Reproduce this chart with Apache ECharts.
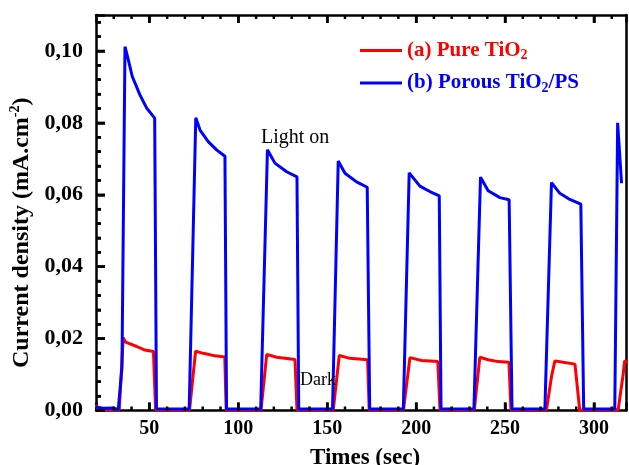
<!DOCTYPE html>
<html>
<head>
<meta charset="utf-8">
<script src="https://cdn.jsdelivr.net/npm/echarts@6/dist/echarts.min.js"></script>
<style>
  html, body { margin: 0; padding: 0; background: #fff; }
  #chart { width: 629px; height: 465px; }
</style>
</head>
<body>
<div id="chart"></div>
<script>
// Photocurrent response (light on / dark cycles)
const timesPorous = [20, 24, 29.7, 32.5, 34.6, 36.3, 37.6, 40.4, 44.7, 48.5, 53.0, 54.0, 63, 72.4,
  76.1, 78.5, 83.1, 87.8, 92.5, 93.4, 103, 112.6,
  116.4, 120.6, 127.2, 133.0, 134.0, 143, 153.0,
  156.2, 160.0, 166.5, 172.5, 173.9, 183, 192.8,
  196.1, 202.1, 207.7, 213.0, 214.0, 223, 232.5,
  236.2, 240.5, 247.1, 252.3, 253.9, 263, 272.4,
  276.1, 280.8, 286.4, 292.6, 294.2, 303, 311.7,
  313.3, 315.5];
const currentPorous = [0.0010, 0.0006, 0.0007, 0.0002, 0.012, 0.1012, 0.0987, 0.0929, 0.0878, 0.0841, 0.0813, 0.0005, 0.0004, 0.0004,
  0.0814, 0.0780, 0.0748, 0.0725, 0.0707, 0.0004, 0.0004, 0.0004,
  0.0725, 0.0688, 0.0664, 0.0650, 0.0004, 0.0004, 0.0004,
  0.0694, 0.0660, 0.0636, 0.0621, 0.0004, 0.0004, 0.0004,
  0.0661, 0.0624, 0.0609, 0.0597, 0.0004, 0.0004, 0.0004,
  0.0649, 0.0611, 0.0592, 0.0586, 0.0004, 0.0004, 0.0004,
  0.0634, 0.0604, 0.0587, 0.0574, 0.0004, 0.0004, 0.0004,
  0.0800, 0.0632];

const timesPure = [20, 21.5, 27, 33.1, 35.3, 36.7, 42.9, 47.5, 52.3, 53.5, 63, 72.6,
  76.0, 80.3, 86.9, 92.4, 93.2, 103, 112.8,
  116.0, 121.6, 131.9, 133.0, 143, 153.4,
  156.8, 162.8, 172.7, 173.6, 183, 192.9,
  196.5, 203.1, 212.2, 213.4, 223, 232.7,
  235.8, 240.5, 246.1, 252.2, 253.3, 263, 273.3,
  276.1, 278.0, 282.7, 289.3, 290.3, 292.0, 293.8, 303, 313.6,
  316.4, 317.2, 319];
const currentPure = [0.0015, 0.0002, 0.0002, 0.0002, 0.0202, 0.0190, 0.0178, 0.0168, 0.0164, 0.0002, 0.0002, 0.0002,
  0.0165, 0.0159, 0.0152, 0.0149, 0.0002, 0.0002, 0.0002,
  0.0156, 0.0148, 0.0142, 0.0002, 0.0002, 0.0002,
  0.0153, 0.0145, 0.0141, 0.0002, 0.0002, 0.0002,
  0.0147, 0.0139, 0.0136, 0.0002, 0.0002, 0.0002,
  0.0148, 0.0141, 0.0136, 0.0134, 0.0002, 0.0002, 0.0002,
  0.0094, 0.0138, 0.0134, 0.0129, 0.0129, 0.0000, 0.0002, 0.0002, 0.0002,
  0.0100, 0.0138, 0.0134];

const seriesNames = ['(a) Pure TiO2', '(b) Porous TiO2/PS'];
const xMajorTicks = [50, 100, 150, 200, 250, 300];
const xMinorTicks = [30, 40, 60, 70, 80, 90, 110, 120, 130, 140, 160, 170, 180, 190,
  210, 220, 230, 240, 260, 270, 280, 290, 310];
const yMajorTicks = [0, 0.02, 0.04, 0.06, 0.08, 0.10];
const yMinorTicks = [0.004, 0.008, 0.012, 0.016, 0.024, 0.028, 0.032, 0.036, 0.044, 0.048,
  0.052, 0.056, 0.064, 0.068, 0.072, 0.076, 0.084, 0.088, 0.092, 0.096, 0.104, 0.108];

const zip = (xs, ys) => xs.map((x, i) => [x, ys[i]]);
const SERIF = 'Liberation Serif';
const X_MIN = 20, X_MAX = 318, Y_MIN = 0, Y_MAX = 0.11;

const frameLine = { show: true, onZero: false, lineStyle: { color: '#000', width: 2.5 } };
const tickLine = { color: '#000', width: 2.5 };

function xAxisDef(position) {
  return {
    type: 'value', position: position, min: X_MIN, max: X_MAX, splitNumber: 6,
    axisLine: frameLine, splitLine: { show: false },
    axisTick: { show: true, inside: true, length: 8, lineStyle: tickLine },
    axisLabel: { show: false }
  };
}

const xAxes = [xAxisDef('bottom'), xAxisDef('top')];
Object.assign(xAxes[0], {
  axisLabel: {
    show: true, customValues: xMajorTicks, margin: 8,
    fontFamily: SERIF, fontWeight: 'bold', fontSize: 20, color: '#000'
  }
});

const yAxes = [
  {
    type: 'value', position: 'left', min: Y_MIN, max: Y_MAX, interval: 0.02,
    axisLine: frameLine, splitLine: { show: false },
    axisTick: { show: true, inside: true, length: 9, lineStyle: tickLine },
    minorTick: { show: true, splitNumber: 5, length: 5, lineStyle: tickLine },
    minorSplitLine: { show: false },
    axisLabel: {
      show: true, customValues: yMajorTicks, margin: 13,
      fontFamily: SERIF, fontWeight: 'bold', fontSize: 22, color: '#000',
      formatter: v => v.toFixed(2).replace('.', ',')
    },
    name: '{m|Current density (mA.cm}{p|-2}{m|)}', nameLocation: 'middle', nameGap: 60,
    nameTextStyle: {
      padding: [0, 40, 0, 0],
      rich: {
        m: { fontFamily: SERIF, fontWeight: 'bold', fontSize: 24, color: '#000', lineHeight: 27 },
        p: { fontFamily: SERIF, fontWeight: 'bold', fontSize: 14, color: '#000', lineHeight: 6, verticalAlign: 'top' }
      }
    }
  },
  {
    type: 'value', position: 'right', min: Y_MIN, max: Y_MAX,
    axisLine: frameLine, splitLine: { show: false },
    axisTick: { show: false }, axisLabel: { show: false }
  }
];

const chart = echarts.init(document.getElementById('chart'), null, { renderer: 'canvas' });
chart.setOption({
  animation: false,
  backgroundColor: '#fff',
  grid: { left: 96, right: 3, top: 15, bottom: 54.5, containLabel: false, outerBoundsContain: 'axisLabel' },
  xAxis: xAxes,
  yAxis: yAxes,
  legend: {
    orient: 'vertical', left: 360, top: 40, padding: 0,
    icon: 'rect', itemWidth: 42, itemHeight: 3, itemGap: 10,
    data: seriesNames,
    formatter: name => name === seriesNames[0]
      ? '{r|(a) Pure TiO}{rs|2}'
      : '{b|(b) Porous TiO}{bs|2}{b|/PS}',
    textStyle: {
      rich: {
        r: { color: '#ff0000', fontFamily: SERIF, fontWeight: 'bold', fontSize: 21, lineHeight: 24 },
        rs: { color: '#ff0000', fontFamily: SERIF, fontWeight: 'bold', fontSize: 14, lineHeight: 6, verticalAlign: 'bottom' },
        b: { color: '#0000ff', fontFamily: SERIF, fontWeight: 'bold', fontSize: 21, lineHeight: 24 },
        bs: { color: '#0000ff', fontFamily: SERIF, fontWeight: 'bold', fontSize: 14, lineHeight: 6, verticalAlign: 'bottom' }
      }
    }
  },
  series: [
    {
      name: seriesNames[0], type: 'line', xAxisIndex: 0, yAxisIndex: 0,
      data: zip(timesPure, currentPure), symbol: 'none', clip: true,
      lineStyle: { color: '#ff0000', width: 3 }, itemStyle: { color: '#ff0000' }, z: 3
    },
    {
      name: seriesNames[1], type: 'line', xAxisIndex: 0, yAxisIndex: 0,
      data: zip(timesPorous, currentPorous), symbol: 'none', clip: true,
      lineStyle: { color: '#0000ff', width: 3 }, itemStyle: { color: '#0000ff' }, z: 4
    }
  ]
});

// Tick marks at every 10 s and every 0.004, placed through the grid's scales
const toPx = (x, y) => chart.convertToPixel({ gridIndex: 0 }, [x, y]);
const tick = (a, b) => ({ type: 'line', silent: true, z: 10,
  shape: { x1: a[0], y1: a[1], x2: b[0], y2: b[1] },
  style: { stroke: '#000', lineWidth: 2.5 } });

const elements = [];
[[xMajorTicks, 8], [xMinorTicks, 4]].forEach(([vals, len]) => vals.forEach(v => {
  const b = toPx(v, Y_MIN), t = toPx(v, Y_MAX);
  if (b && t && isFinite(b[0])) {
    elements.push(tick(b, [b[0], b[1] - len]));
    elements.push(tick(t, [t[0], t[1] + len]));
  }
}));
[[yMajorTicks, 9], [yMinorTicks, 5]].forEach(([vals, len]) => vals.forEach(v => {
  const l = toPx(X_MIN, v);
  if (l && isFinite(l[1])) elements.push(tick(l, [l[0] + len, l[1]]));
}));
elements.push({ type: 'text', x: 365, y: 458, z: 10,
  style: { text: 'Times (sec)', font: 'bold 23px "Liberation Serif"', fill: '#000',
    align: 'center', verticalAlign: 'middle' } });
elements.push({ type: 'text', left: 261, top: 128, z: 10,
  style: { text: 'Light on', font: '20px "Liberation Serif"', fill: '#000' } });
elements.push({ type: 'text', left: 300, top: 371, z: 10,
  style: { text: 'Dark', font: '18px "Liberation Serif"', fill: '#000' } });

chart.setOption({ graphic: { elements: elements } });
</script>
</body>
</html>
